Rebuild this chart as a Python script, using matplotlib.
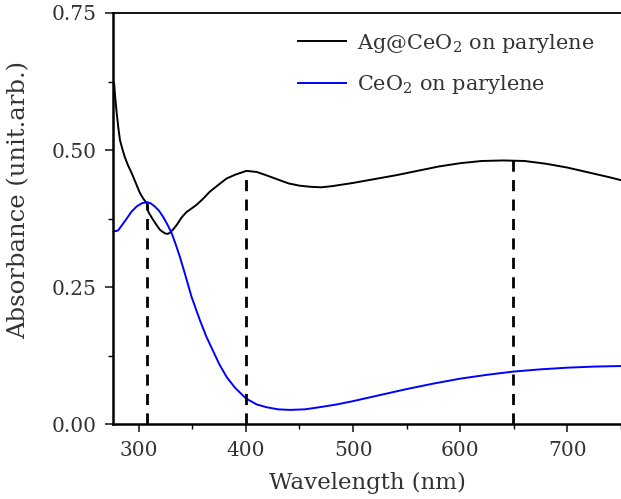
import numpy as np
import matplotlib
matplotlib.use("Agg")
import matplotlib.pyplot as plt

# values
wl_ag = [276, 277, 278, 279.4, 281, 282.5, 285, 287, 290, 293.4, 297, 301, 304, 307.4,
         309, 313, 316.7, 320, 324.4, 327, 329, 332, 335.3, 340, 344.6, 349, 353.9, 360,
         366.3, 374, 381.9, 390, 400.5, 410, 419, 431.5, 440, 450, 460, 470, 480, 500,
         520, 540, 560, 580, 600, 620, 640, 660, 680, 700, 720, 740, 750]
abs_ag = [0.626, 0.622, 0.597, 0.568, 0.540, 0.518, 0.500, 0.487, 0.472, 0.458, 0.441,
          0.422, 0.412, 0.403, 0.387, 0.374, 0.363, 0.354, 0.348, 0.347, 0.349, 0.355,
          0.363, 0.377, 0.387, 0.393, 0.400, 0.411, 0.424, 0.436, 0.448, 0.455, 0.462,
          0.460, 0.454, 0.445, 0.439, 0.435, 0.433, 0.432, 0.434, 0.440, 0.447, 0.454,
          0.462, 0.470, 0.476, 0.480, 0.481, 0.480, 0.475, 0.468, 0.459, 0.450, 0.445]

wl_ce = [276, 279, 281, 284, 288.8, 293, 298, 303, 307.4, 311, 315, 319, 322.8, 326.5,
         330.6, 334.5, 338.4, 343, 349.3, 357, 363, 369, 375, 382, 390, 400, 410, 419,
         430, 441, 455, 469, 485, 500, 525, 550, 575, 600, 625, 650, 675, 700, 725, 750]
abs_ce = [0.353, 0.352, 0.354, 0.362, 0.375, 0.387, 0.397, 0.403, 0.405, 0.403, 0.397,
          0.389, 0.378, 0.365, 0.349, 0.328, 0.305, 0.275, 0.232, 0.190, 0.160, 0.135,
          0.110, 0.086, 0.066, 0.047, 0.036, 0.031, 0.027, 0.026, 0.027, 0.031, 0.036,
          0.042, 0.053, 0.064, 0.074, 0.083, 0.090, 0.096, 0.100, 0.103, 0.105, 0.106]

peaks_x = [308, 400, 649]
peaks_y = [0.403, 0.462, 0.481]

xticks = [300, 400, 500, 600, 700]
yticks = [0.00, 0.25, 0.50, 0.75]

plt.rcParams['font.family'] = ['DejaVu Serif']
plt.rcParams['mathtext.default'] = 'regular'

fig = plt.figure(figsize=(6.21, 4.99), dpi=100)
ax = fig.add_axes([0.182, 0.150, 0.818, 0.824])

ax.plot(wl_ag, abs_ag, color='black', lw=1.4, label=r'Ag@CeO$_\mathregular{2}$ on parylene')
ax.plot(wl_ce, abs_ce, color='#0000ff', lw=1.4, label=r'CeO$_\mathregular{2}$ on parylene')
for px, py in zip(peaks_x, peaks_y):
    ax.plot([px, px], [0, py], color='black', lw=2, ls=(0, (4, 3)))

ax.set_xlim(276, 750)
ax.set_ylim(0, 0.75)
ax.set_xticks(xticks)
ax.set_xticks([350, 450, 550, 650, 750], minor=True)
ax.set_yticks(yticks)
ax.set_yticks([0.125, 0.375, 0.625], minor=True)
ax.set_yticklabels(['%.2f' % v for v in yticks])
ax.tick_params(which='major', direction='out', length=6, width=1.2, labelsize=14.5,
               colors='#222222', labelcolor='#333333', pad=6)
ax.tick_params(which='minor', direction='out', length=3.5, width=1.0)

for s in ['left', 'bottom']:
    ax.spines[s].set_linewidth(1.8)
ax.spines['top'].set_linewidth(1.3)
ax.spines['right'].set_visible(False)

ax.set_xlabel('Wavelength (nm)', fontsize=16.5, color='#333333', labelpad=9)
ax.set_ylabel('Absorbance (unit.arb.)', fontsize=17.5, color='#333333')
ax.yaxis.set_label_coords(-0.162, 0.545)

ax.legend(loc='upper right', fontsize=15, frameon=False, handlelength=2.3,
          handletextpad=0.55, labelspacing=0.9, bbox_to_anchor=(0.985, 1.0),
          labelcolor='#333333')

fig.savefig('out.png', dpi=100)
